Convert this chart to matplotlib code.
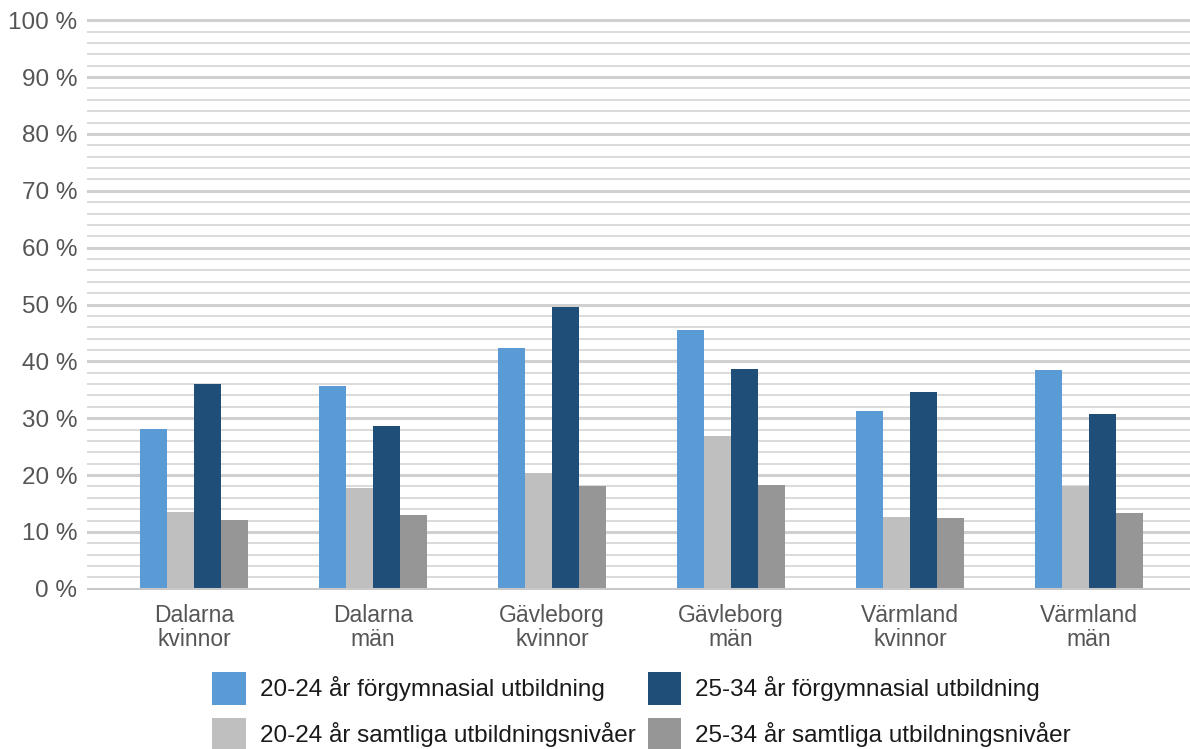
import numpy as np
import matplotlib.pyplot as plt
from matplotlib.ticker import MultipleLocator, FuncFormatter

plt.rcParams['font.family'] = ['Liberation Sans', 'DejaVu Sans']

categories = ["Dalarna\nkvinnor", "Dalarna\nmän", "Gävleborg\nkvinnor",
              "Gävleborg\nmän", "Värmland\nkvinnor", "Värmland\nmän"]
ung_forgym = [28.1, 35.6, 42.3, 45.6, 31.2, 38.4]
ung_samtliga = [13.5, 17.7, 20.4, 26.8, 12.6, 18.1]
aldre_forgym = [36.1, 28.6, 49.5, 38.6, 34.7, 30.7]
aldre_samtliga = [12.1, 13.0, 18.1, 18.2, 12.5, 13.3]

series = [
    ("20-24 år förgymnasial utbildning", ung_forgym, "#5B9BD5"),
    ("20-24 år samtliga utbildningsnivåer", ung_samtliga, "#BFBFBF"),
    ("25-34 år förgymnasial utbildning", aldre_forgym, "#1F4E79"),
    ("25-34 år samtliga utbildningsnivåer", aldre_samtliga, "#969696"),
]

fig = plt.figure(figsize=(11.9, 7.49), dpi=100)
ax = fig.add_axes([87 / 1190, 1 - 590 / 749, 1 - 87 / 1190, 571 / 749])

x = np.arange(len(categories))
w = 0.15
handles = []
for i, (label, vals, col) in enumerate(series):
    b = ax.bar(x + (i - 1.5) * w, vals, w, color=col, label=label, zorder=3)
    handles.append(b)

ax.set_xlim(-0.598, 5.564)
ax.set_ylim(-0.2, 100.2)
ax.yaxis.set_major_locator(MultipleLocator(10))
ax.yaxis.set_minor_locator(MultipleLocator(2))
ax.yaxis.set_major_formatter(FuncFormatter(lambda v, p: "%d %%" % round(v)))
ax.grid(which='major', axis='y', color='#D0D0D0', lw=2.2, zorder=0)
ax.grid(which='minor', axis='y', color='#DADADA', lw=1.4, zorder=0)
ax.axhline(0, color='#C8C8C8', lw=2.2, zorder=4)
for s in ax.spines.values():
    s.set_visible(False)

ax.set_xticks(x)
ax.set_xticklabels(categories, fontsize=16.5, color='#555555', linespacing=1.05)
ax.tick_params(axis='x', length=0, pad=10)
ax.tick_params(axis='y', which='both', length=0, pad=7, labelsize=17.5,
               labelcolor='#555555')

fig.legend(handles=handles, loc='upper center', bbox_to_anchor=(0.539, 0.132),
           ncol=2, frameon=False, fontsize=17.5, handlelength=1.36,
           handleheight=1.71, handletextpad=0.58, columnspacing=0.5,
           labelspacing=0.53, labelcolor='#1a1a1a')

plt.savefig("out.png", dpi=100)
